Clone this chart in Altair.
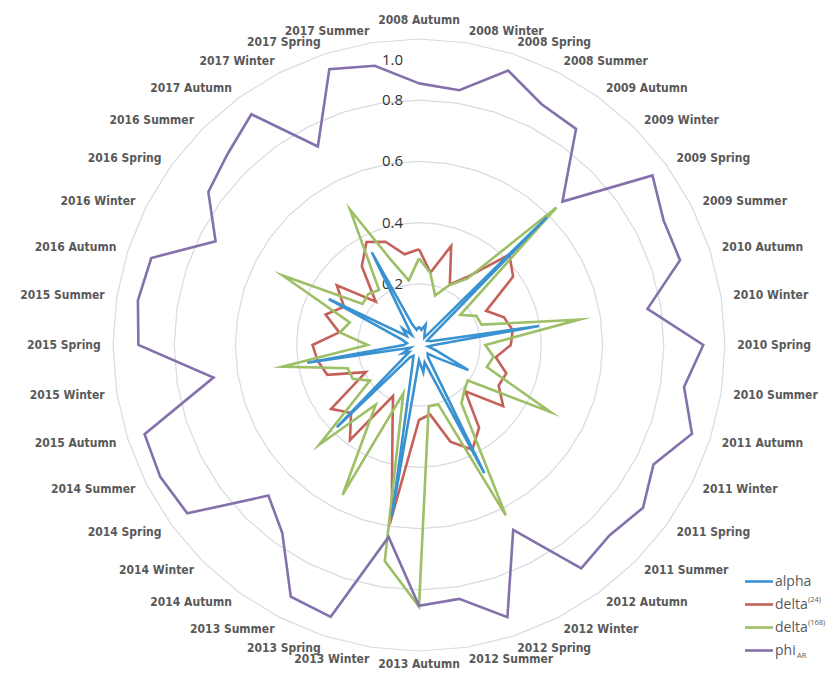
import altair as alt
import pandas as pd

years = [2008, 2009, 2010, 2011, 2012, 2013, 2014, 2015, 2016, 2017]
seasons = ["Autumn", "Winter", "Spring", "Summer"]
categories = [f"{y} {s}" for y in years for s in seasons]

alpha = [0.06, 0.05, 0.07, 0.04, 0.03, 0.59, 0.05, 0.03, 0.04, 0.397,
         0.05, 0.03, 0.06, 0.181, 0.07, 0.04, 0.05, 0.47, 0.06, 0.09,
         0.05, 0.565, 0.07, 0.04, 0.05, 0.38, 0.04, 0.06, 0.03, 0.37,
         0.05, 0.04, 0.06, 0.331, 0.05, 0.075, 0.04, 0.34, 0.07, 0.05]
delta24 = [0.313, 0.24, 0.34, 0.222, 0.278, 0.418, 0.38, 0.246, 0.292, 0.31,
           0.30, 0.254, 0.30, 0.292, 0.34, 0.214, 0.334, 0.384, 0.332, 0.23,
           0.245, 0.57, 0.28, 0.187, 0.384, 0.314, 0.355, 0.195, 0.315, 0.335,
           0.348, 0.264, 0.321, 0.275, 0.332, 0.20, 0.318, 0.378, 0.355, 0.30]
delta168 = [0.283, 0.238, 0.17, 0.22, 0.268, 0.635, 0.167, 0.21, 0.215, 0.53,
            0.217, 0.247, 0.233, 0.483, 0.197, 0.21, 0.236, 0.625, 0.204, 0.203,
            0.855, 0.715, 0.166, 0.55, 0.241, 0.461, 0.198, 0.243, 0.245, 0.452,
            0.168, 0.262, 0.238, 0.50, 0.228, 0.235, 0.222, 0.496, 0.29, 0.214]
phi_ar = [0.855, 0.843, 0.943, 0.883, 0.873, 0.663, 0.943, 0.897, 0.897, 0.756,
          0.929, 0.877, 0.938, 0.86, 0.905, 0.88, 0.902, 0.678, 0.935, 0.84,
          0.852, 0.635, 0.934, 0.923, 0.76, 0.696, 0.936, 0.949, 0.943, 0.68,
          0.917, 0.93, 0.92, 0.746, 0.851, 0.884, 0.932, 0.728, 0.948, 0.924]

series_names = ["alpha", "delta24", "delta168", "phiAR"]
series_values = [alpha, delta24, delta168, phi_ar]
series_colors = ["#3a93d0", "#c4625a", "#9dbf66", "#8470ab"]
draw_order = ["delta24", "delta168", "phiAR", "alpha"]

legend_main = ["alpha", "delta", "delta", "phi"]
legend_script = ["", "(24)", "(168)", "AR"]
legend_script_kind = ["none", "sup", "sup", "sub"]

tick_values = [0.2, 0.4, 0.6, 0.8, 1.0]
tick_labels = ["0.2", "0.4", "0.6", "0.8", "1.0"]

N = len(categories)

rows = []
for name, vals in zip(series_names, series_values):
    for i in range(N + 1):
        rows.append({"series": name, "idx": i, "value": vals[i % N]})
series_df = pd.DataFrame(rows)

grid_df = pd.DataFrame(
    [{"level": lv, "idx": i, "value": lv} for lv in tick_values for i in range(N + 1)]
)
label_df = pd.DataFrame({"label": categories, "idx": list(range(N)), "value": [1.04] * N})
tick_df = pd.DataFrame({"text": tick_labels, "value": tick_values, "idx": [0] * len(tick_values)})
legend_df = pd.DataFrame({
    "name": series_names,
    "main": legend_main,
    "script": legend_script,
    "kind": legend_script_kind,
})

xs = alt.Scale(domain=[-1, 1], nice=False, zero=False)
ys = alt.Scale(domain=[-1, 1], nice=False, zero=False)
X = alt.X("px:Q", scale=xs, axis=None)
Y = alt.Y("py:Q", scale=ys, axis=None)


def polar(ch):
    return ch.transform_calculate(
        theta=f"datum.idx * 2 * PI / {N}"
    ).transform_calculate(
        px="datum.value * sin(datum.theta)",
        py="datum.value * cos(datum.theta)",
        s="sin(datum.theta)",
        c="cos(datum.theta)",
    )


grid = polar(alt.Chart(grid_df)).mark_line(
    color="#d9dae2", strokeWidth=1.2
).encode(x=X, y=Y, detail="level:N", order="idx:Q")

ticks_main = polar(alt.Chart(tick_df)).transform_filter("datum.value < 1").mark_text(
    align="right", baseline="middle", dx=-16, fontSize=15, font="Open Sans", color="#333333"
).encode(x=X, y=Y, text="text:N")
ticks_top = polar(alt.Chart(tick_df)).transform_filter("datum.value >= 1").mark_text(
    align="right", baseline="middle", dx=-16, dy=21, fontSize=15, font="Open Sans", color="#333333"
).encode(x=X, y=Y, text="text:N")

label_font = dict(fontSize=12, font="DejaVu Sans Condensed, Roboto", fontWeight="bold",
                  color="#595959")
lab_base = polar(alt.Chart(label_df))
lab_right = lab_base.transform_filter("datum.s > 0.01").mark_text(
    align="left", baseline="middle", **label_font).encode(x=X, y=Y, text="label:N")
lab_left = lab_base.transform_filter("datum.s < -0.01").mark_text(
    align="right", baseline="middle", **label_font).encode(x=X, y=Y, text="label:N")
lab_top = lab_base.transform_filter("abs(datum.s) <= 0.01 && datum.c > 0").mark_text(
    align="center", baseline="bottom", **label_font).encode(x=X, y=Y, text="label:N")
lab_bot = lab_base.transform_filter("abs(datum.s) <= 0.01 && datum.c < 0").mark_text(
    align="center", baseline="top", dy=-4, **label_font).encode(x=X, y=Y, text="label:N")

color = alt.Color("series:N", scale=alt.Scale(domain=series_names, range=series_colors), legend=None)
series_layers = []
for name in draw_order:
    series_layers.append(
        polar(alt.Chart(series_df)).transform_filter(f"datum.series == '{name}'").mark_line(
            strokeWidth=2.6, strokeJoin="miter", strokeMiterLimit=10
        ).encode(x=X, y=Y, order="idx:Q", color=color)
    )

LY = alt.Y("name:N", scale=alt.Scale(domain=series_names, range=[531, 623], padding=0), axis=None)
leg_rule = alt.Chart(legend_df).mark_rule(strokeWidth=2.6).encode(
    x=alt.value(632), x2=alt.value(660), y=LY, color=alt.Color(
        "name:N", scale=alt.Scale(domain=series_names, range=series_colors), legend=None)
)
leg_text = alt.Chart(legend_df).mark_text(
    align="left", baseline="middle", fontSize=14, font="Open Sans", color="#595959"
).encode(x=alt.value(662), y=LY, text="main:N")
leg_sup = alt.Chart(legend_df).transform_filter("datum.kind == 'sup'").mark_text(
    align="left", baseline="middle", fontSize=7.5, dy=-5, font="Open Sans", color="#595959"
).encode(x=alt.value(695), y=LY, text="script:N")
leg_sub = alt.Chart(legend_df).transform_filter("datum.kind == 'sub'").mark_text(
    align="left", baseline="middle", fontSize=7.5, dy=5, font="Open Sans", color="#595959"
).encode(x=alt.value(684), y=LY, text="script:N")

radar = alt.layer(grid, ticks_main, ticks_top, *series_layers,
                  lab_right, lab_left, lab_top, lab_bot)
legend = alt.layer(leg_rule, leg_text, leg_sup, leg_sub)

chart = alt.layer(radar, legend).resolve_scale(
    y="independent", color="independent"
).properties(
    width=612, height=612,
    background="white",
    autosize=alt.AutoSizeParams(type="none"),
    padding={"left": 105, "top": 31, "right": 101, "bottom": 21},
).configure_view(strokeWidth=0)

chart.save("out.html", embed_options={"renderer": "svg", "actions": False})
